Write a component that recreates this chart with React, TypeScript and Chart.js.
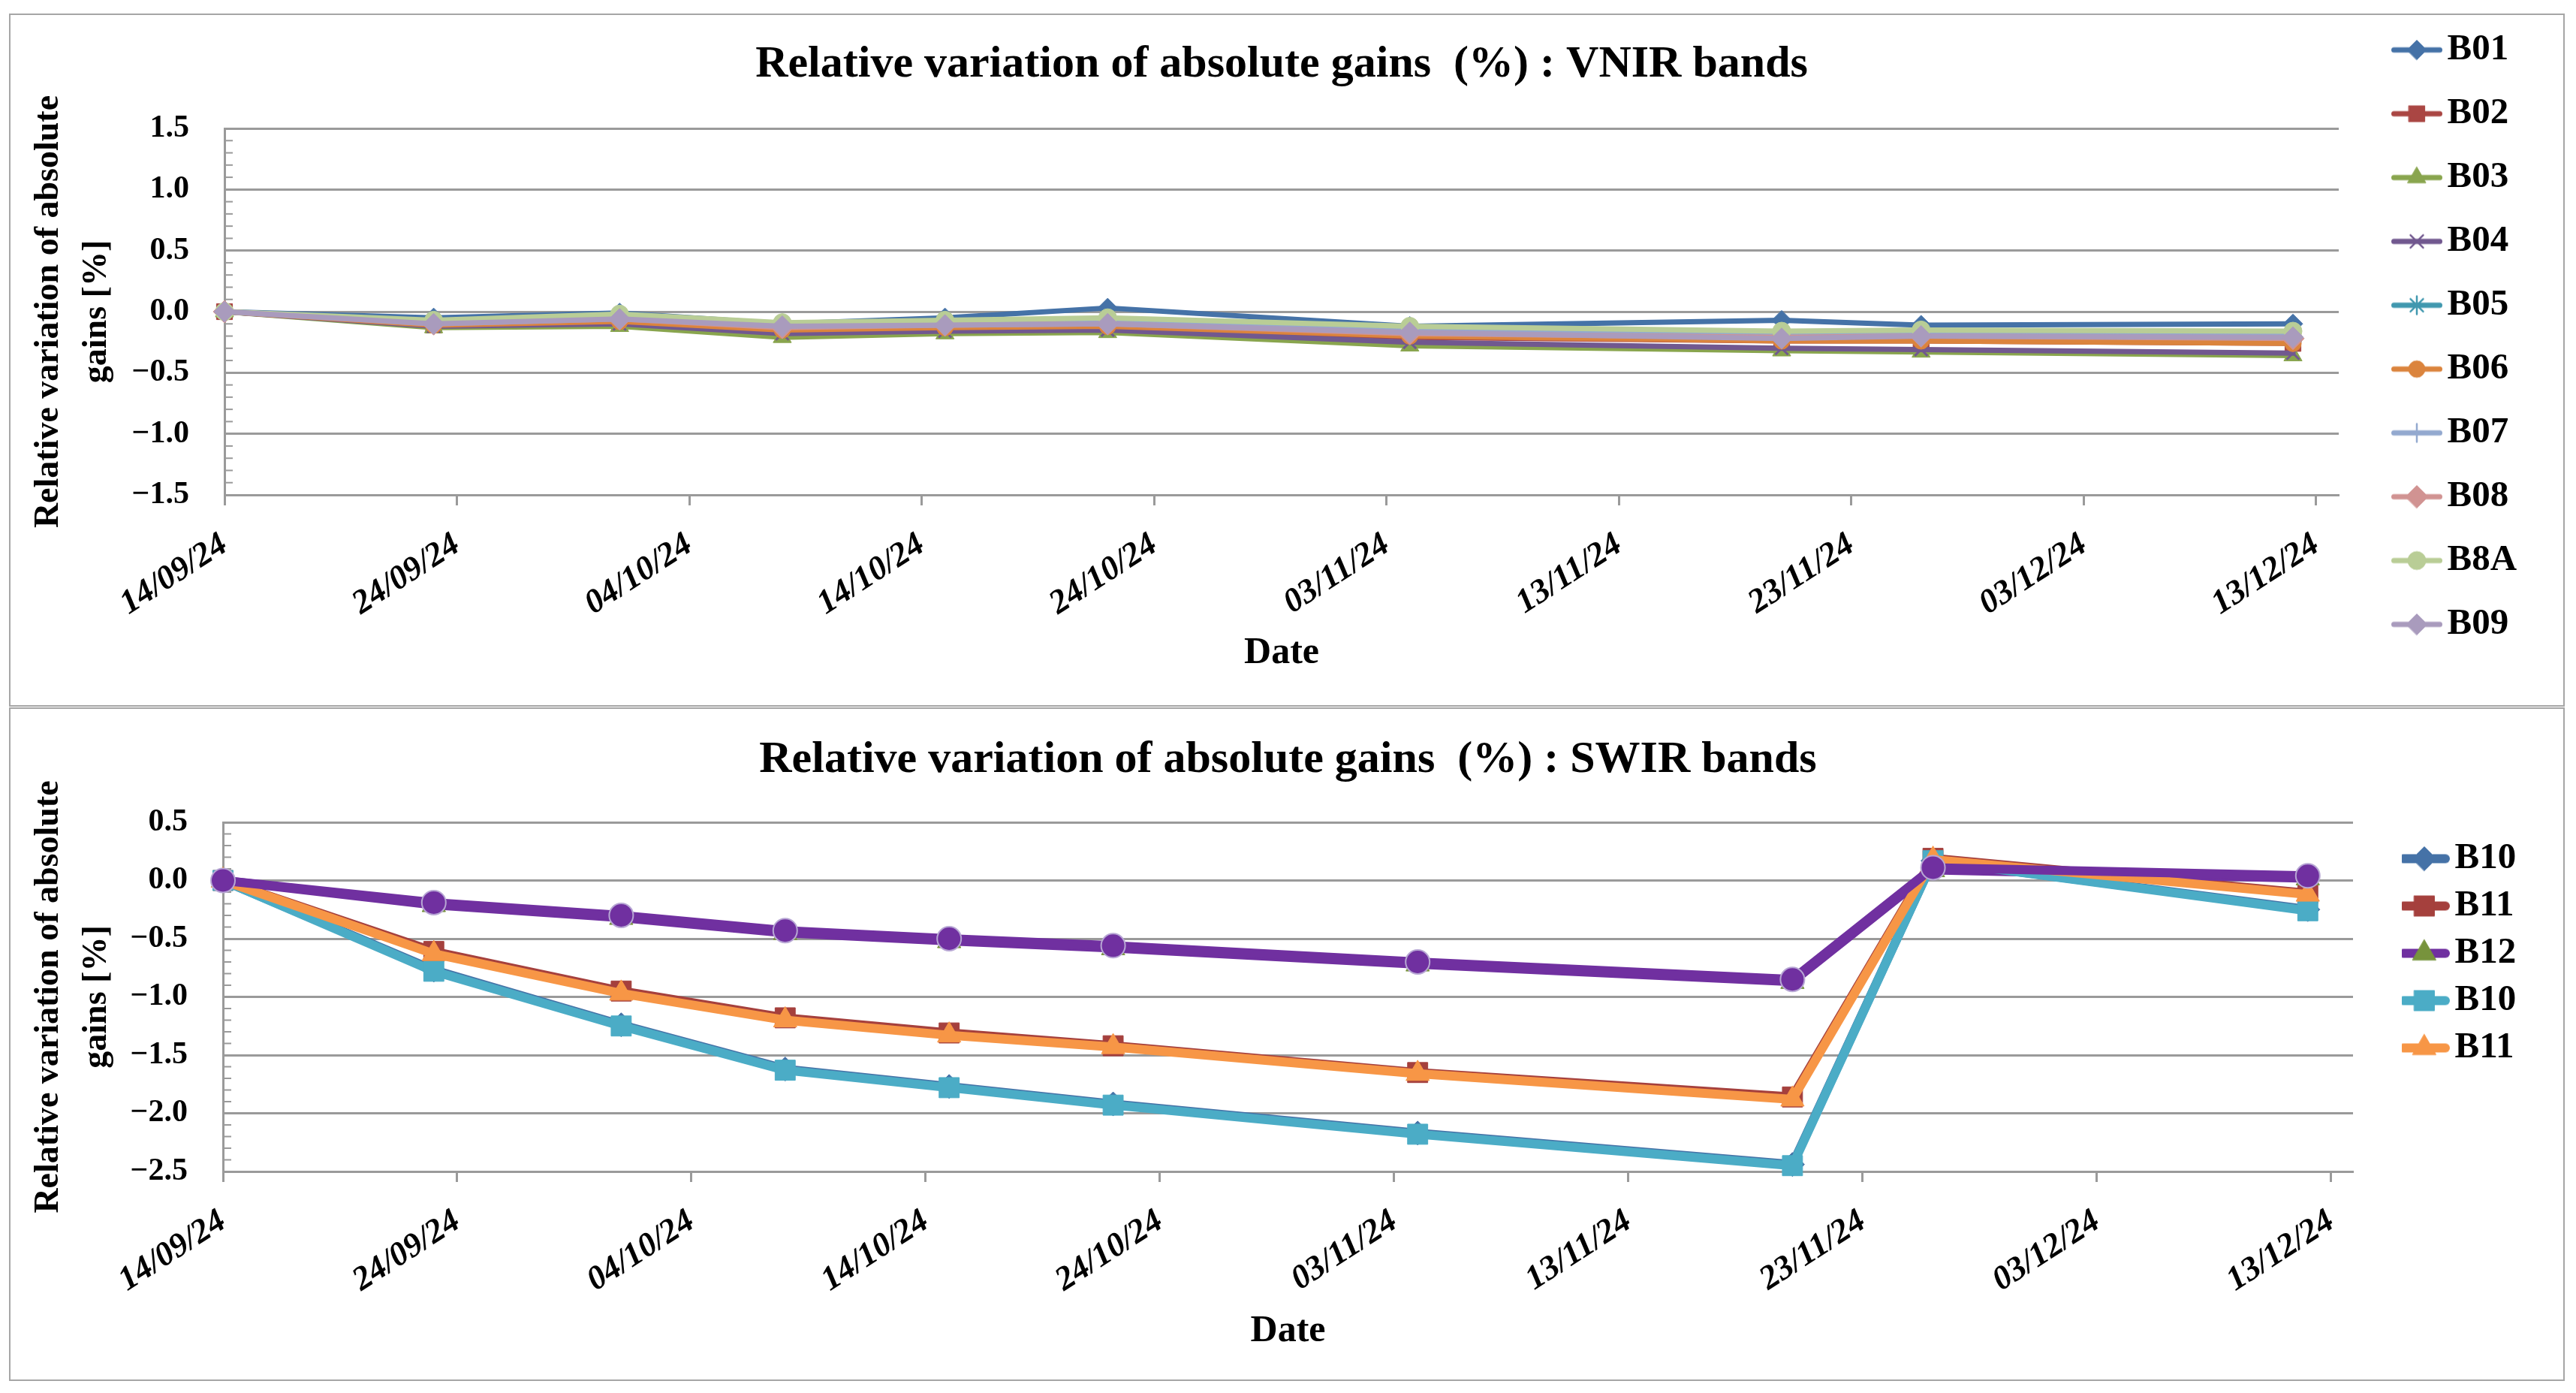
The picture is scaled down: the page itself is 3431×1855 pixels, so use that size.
import React, { useEffect, useRef } from 'react';
import { Chart, registerables } from 'chart.js';
import { drawPoint } from 'chart.js/helpers';

Chart.register(...registerables);

const FONT = "'Liberation Serif', 'Times New Roman', serif";
const GRID = '#9a9a9a';

// days elapsed since 14/09/24 for each acquisition
const vnirDays = [0, 9, 17, 24, 31, 38, 51, 67, 73, 89];
const swirDays = [0, 9, 17, 24, 31, 38, 51, 67, 73, 89];

// date axis ticks (every 10 days)
const tickDays = [0, 10, 20, 30, 40, 50, 60, 70, 80, 90];
const tickLabels = ['14/09/24', '24/09/24', '04/10/24', '14/10/24', '24/10/24', '03/11/24', '13/11/24', '23/11/24', '03/12/24', '13/12/24'];

const yTitle = ['Relative variation of absolute', 'gains [%]'];

// VNIR bands
const b01 = [0, -0.05, -0.01, -0.10, -0.05, 0.03, -0.12, -0.07, -0.11, -0.10];
const b02 = [0, -0.11, -0.09, -0.16, -0.13, -0.12, -0.21, -0.24, -0.24, -0.26];
const b03 = [0, -0.13, -0.12, -0.21, -0.18, -0.17, -0.28, -0.32, -0.33, -0.36];
const b04 = [0, -0.12, -0.10, -0.18, -0.16, -0.15, -0.25, -0.30, -0.31, -0.34];
const b05 = [0, -0.10, -0.07, -0.14, -0.12, -0.11, -0.19, -0.22, -0.22, -0.24];
const b06 = [0, -0.11, -0.08, -0.15, -0.13, -0.12, -0.20, -0.24, -0.24, -0.26];
const b07 = [0, -0.09, -0.05, -0.11, -0.09, -0.07, -0.15, -0.19, -0.18, -0.20];
const b08 = [0, -0.10, -0.06, -0.13, -0.11, -0.10, -0.18, -0.21, -0.20, -0.22];
const b8a = [0, -0.07, -0.02, -0.09, -0.07, -0.05, -0.12, -0.16, -0.15, -0.16];
const b09 = [0, -0.10, -0.06, -0.12, -0.11, -0.10, -0.17, -0.22, -0.20, -0.21];

// SWIR bands
const b10a = [0, -0.77, -1.24, -1.62, -1.77, -1.92, -2.17, -2.44, 0.17, -0.25];
const b11a = [0, -0.61, -0.95, -1.18, -1.31, -1.42, -1.65, -1.86, 0.19, -0.11];
const b12a = [0, -0.21, -0.32, -0.45, -0.52, -0.58, -0.72, -0.87, 0.09, 0.02];
const b10b = [0, -0.78, -1.25, -1.63, -1.78, -1.93, -2.18, -2.45, 0.17, -0.26];
const b11b = [0, -0.63, -0.97, -1.20, -1.33, -1.43, -1.66, -1.88, 0.18, -0.12];
const b12b = [0, -0.19, -0.30, -0.43, -0.50, -0.56, -0.70, -0.85, 0.11, 0.04];

type Series = {
  label: string;
  values: number[];
  color: string;
  marker: string;
  markerColor?: string;
  markerBorder?: string;
  radius: number;
  inLegend?: boolean;
};

type Geometry = {
  left: number;
  top: number;
  width: number;
  height: number;
  plotLeft: number;
  padRight: number;
  xAxisHeight: number;
  xMax: number;
  titleTop: number;
  titleBottom: number;
  datePad: number;
  legendLeft: number;
  legendTop: number;
  legendPadding: number;
  lineWidth: number;
};

const vnirSeries: Series[] = [
  { label: 'B01', values: b01, color: '#4572A7', marker: 'rectRot', radius: 13 },
  { label: 'B02', values: b02, color: '#AA4643', marker: 'rect', radius: 15 },
  { label: 'B03', values: b03, color: '#89A54E', marker: 'triangle', radius: 14 },
  { label: 'B04', values: b04, color: '#71588F', marker: 'crossRot', radius: 12 },
  { label: 'B05', values: b05, color: '#4198AF', marker: 'star', radius: 12 },
  { label: 'B06', values: b06, color: '#DB843D', marker: 'circle', radius: 11 },
  { label: 'B07', values: b07, color: '#93A9CF', marker: 'cross', radius: 12 },
  { label: 'B08', values: b08, color: '#D19392', marker: 'rectRot', radius: 15 },
  { label: 'B8A', values: b8a, color: '#B9CD96', marker: 'circle', radius: 12 },
  { label: 'B09', values: b09, color: '#A99BBD', marker: 'rectRot', radius: 14 },
];

const swirSeries: Series[] = [
  { label: 'B10', values: b10a, color: '#4572A7', marker: 'rectRot', radius: 16 },
  { label: 'B11', values: b11a, color: '#A5403D', marker: 'rect', radius: 19 },
  { label: 'B12', values: b12a, color: '#7030A0', marker: 'triangle', markerColor: '#77933C', radius: 18 },
  { label: 'B10', values: b10b, color: '#4BACC6', marker: 'rect', radius: 19 },
  { label: 'B11', values: b11b, color: '#F79646', marker: 'triangle', radius: 18 },
  { label: 'B12', values: b12b, color: '#7030A0', marker: 'circle', markerBorder: '#B7A6D4', radius: 16, inLegend: false },
];

const thinMarker = (m: string) => m === 'cross' || m === 'crossRot' || m === 'star';

function legendIcon(s: Series, lineWidth: number) {
  const c = document.createElement('canvas');
  c.width = 72;
  c.height = 52;
  const ctx = c.getContext('2d')!;
  ctx.strokeStyle = s.color;
  ctx.lineWidth = lineWidth;
  ctx.lineCap = 'round';
  ctx.beginPath();
  ctx.moveTo(lineWidth / 2 + 2, 26);
  ctx.lineTo(70 - lineWidth / 2, 26);
  ctx.stroke();
  const fill = s.markerColor || s.color;
  ctx.fillStyle = fill;
  ctx.strokeStyle = s.markerBorder || fill;
  ctx.lineWidth = thinMarker(s.marker) ? 2.5 : 1;
  drawPoint(ctx, { pointStyle: s.marker as any, rotation: 0, radius: s.radius, borderWidth: ctx.lineWidth }, 36, 26);
  return c;
}

// moves the legend column to a fixed spot after layout (and widens it so labels are not clipped)
const legendPlace = {
  id: 'legendPlace',
  afterLayout(chart: any, _args: any, opts: any) {
    const lg = chart.legend;
    if (!lg || opts.left == null) return;
    lg.width = 260;
    lg.left = opts.left;
    lg.right = opts.left + lg.width;
    lg.top = opts.top;
    lg.bottom = opts.top + lg.height;
  },
};

// small minor tick marks on the value axis (every 0.1)
const minorTicks = {
  id: 'minorTicks',
  beforeDatasetsDraw(chart: any) {
    const y = chart.scales.y;
    const { left } = chart.chartArea;
    const ctx = chart.ctx;
    ctx.save();
    ctx.strokeStyle = GRID;
    ctx.lineWidth = 2;
    for (let k = Math.round(y.min * 10); k <= Math.round(y.max * 10); k++) {
      if (k % 5 === 0) continue;
      const py = y.getPixelForValue(k / 10);
      ctx.beginPath();
      ctx.moveTo(left, py);
      ctx.lineTo(left + 11, py);
      ctx.stroke();
    }
    ctx.restore();
  },
};

const fmt = (v: number) => (v < 0 ? '\u2212' : '') + Math.abs(v).toFixed(1);

interface GainChartProps {
  title: string;
  days: number[];
  series: Series[];
  yMin: number;
  yMax: number;
  g: Geometry;
}

const GainChart: React.FC<GainChartProps> = ({ title, days, series, yMin, yMax, g }) => {
  const chartRef = useRef<HTMLCanvasElement>(null);
  const chartInstance = useRef<Chart | null>(null);

  useEffect(() => {
    if (!chartRef.current) return;
    if (chartInstance.current) chartInstance.current.destroy();

    const icons = series.map((s) => legendIcon(s, g.lineWidth));

    chartInstance.current = new Chart(chartRef.current, {
      type: 'line',
      data: {
        datasets: series.map((s, i) => ({
          label: s.label,
          data: days.map((d, k) => ({ x: d, y: s.values[k] })),
          borderColor: s.color,
          backgroundColor: s.markerColor || s.color,
          borderWidth: g.lineWidth,
          borderJoinStyle: 'round',
          borderCapStyle: 'round',
          pointStyle: s.marker as any,
          pointRadius: s.radius,
          pointBackgroundColor: s.markerColor || s.color,
          pointBorderColor: s.markerBorder || s.markerColor || s.color,
          pointBorderWidth: thinMarker(s.marker) ? 3 : s.markerBorder ? 2 : 1,
          tension: 0,
          clip: false as any,
          order: series.length - i,
        })),
      },
      options: {
        responsive: false,
        animation: false,
        events: [],
        layout: { padding: { left: 0, right: g.padRight, top: 0, bottom: 0 } },
        scales: {
          x: {
            type: 'linear',
            min: 0,
            max: g.xMax,
            afterBuildTicks: (axis: any) => {
              axis.ticks = tickDays.map((v) => ({ value: v }));
            },
            afterFit: (axis: any) => {
              axis.height = g.xAxisHeight;
            },
            grid: {
              drawOnChartArea: false,
              drawTicks: true,
              tickLength: 14,
              tickColor: GRID,
              tickWidth: 3,
            },
            border: { display: true, color: GRID, width: 3 },
            ticks: {
              autoSkip: false,
              minRotation: 33,
              maxRotation: 33,
              padding: 26,
              color: '#000',
              font: { family: FONT, size: 45, weight: 'bold', style: 'italic' },
              callback: (_v: any, i: number) => tickLabels[i],
            },
            title: {
              display: true,
              text: 'Date',
              color: '#000',
              font: { family: FONT, size: 50, weight: 'bold' },
              padding: { top: 0, bottom: g.datePad },
            },
          },
          y: {
            min: yMin,
            max: yMax,
            afterFit: (axis: any) => {
              axis.width = g.plotLeft;
            },
            grid: { color: GRID, lineWidth: 3, drawTicks: false },
            border: { display: true, color: GRID, width: 3 },
            ticks: {
              stepSize: 0.5,
              padding: 47,
              color: '#000',
              font: { family: FONT, size: 42, weight: 'bold' },
              callback: (v: any) => fmt(Number(v)),
            },
            title: {
              display: true,
              text: yTitle,
              color: '#000',
              font: { family: FONT, size: 46, weight: 'bold', lineHeight: 1.4 },
              padding: { top: 19, bottom: 0 },
            },
          },
        },
        plugins: {
          title: {
            display: true,
            fullSize: false,
            text: title,
            color: '#000',
            font: { family: FONT, size: 60, weight: 'bold', lineHeight: 1.2 },
            padding: { top: g.titleTop, bottom: g.titleBottom },
          },
          legend: {
            position: 'right',
            align: 'start',
            maxWidth: 150,
            labels: {
              usePointStyle: true,
              pointStyleWidth: 32,
              padding: g.legendPadding,
              color: '#000',
              font: { family: FONT, size: 49, weight: 'bold' },
              generateLabels: (chart: any) => {
                const items = Chart.defaults.plugins.legend.labels.generateLabels(chart);
                return items
                  .filter((it: any) => series[it.datasetIndex].inLegend !== false)
                  .sort((a: any, b: any) => a.datasetIndex - b.datasetIndex)
                  .map((it: any) => ({ ...it, pointStyle: icons[it.datasetIndex], lineWidth: 0, fontColor: '#000' }));
              },
            },
          },
          legendPlace: { left: g.legendLeft, top: g.legendTop },
          tooltip: { enabled: false },
        } as any,
      },
      plugins: [legendPlace, minorTicks],
    });

    return () => {
      if (chartInstance.current) {
        chartInstance.current.destroy();
        chartInstance.current = null;
      }
    };
  }, [title, days, series, yMin, yMax, g]);

  return (
    <div
      style={{
        position: 'absolute',
        left: g.left,
        top: g.top,
        width: g.width,
        height: g.height,
        border: '2px solid #a6a6a6',
        boxSizing: 'border-box',
        background: '#fff',
      }}
    >
      <canvas ref={chartRef} width={g.width - 4} height={g.height - 4} style={{ display: 'block' }}></canvas>
    </div>
  );
};

const vnirGeom: Geometry = {
  left: 12, top: 18, width: 3404, height: 923,
  plotLeft: 285, padRight: 149, xAxisHeight: 280, xMax: 90.97,
  titleTop: 30, titleBottom: 49, datePad: 39,
  legendLeft: 3153, legendTop: -14, legendPadding: 36, lineWidth: 7,
};

const swirGeom: Geometry = {
  left: 12, top: 942, width: 3404, height: 897,
  plotLeft: 283, padRight: 130, xAxisHeight: 277, xMax: 90.93,
  titleTop: 32, titleBottom: 47, datePad: 34,
  legendLeft: 3185, legendTop: 161, legendPadding: 14, lineWidth: 12,
};

export default function App() {
  return (
    <div style={{ position: 'absolute', left: 0, top: 0, width: 3431, height: 1855, background: '#fff' }}>
      <GainChart
        title="Relative variation of absolute gains  (%) : VNIR bands"
        days={vnirDays}
        series={vnirSeries}
        yMin={-1.5}
        yMax={1.5}
        g={vnirGeom}
      />
      <GainChart
        title="Relative variation of absolute gains  (%) : SWIR bands"
        days={swirDays}
        series={swirSeries}
        yMin={-2.5}
        yMax={0.5}
        g={swirGeom}
      />
    </div>
  );
}
